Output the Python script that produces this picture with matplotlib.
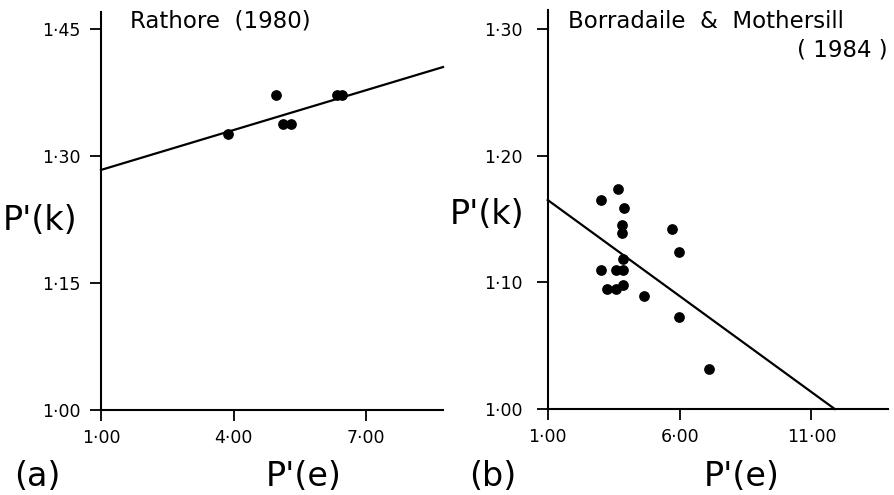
import numpy as np
import matplotlib
matplotlib.use('Agg')
import matplotlib.pyplot as plt
from matplotlib.ticker import FixedLocator

# panel (a): Rathore (1980)
pe_a = [3.87, 4.95, 5.12, 5.30, 6.33, 6.45]
pk_a = [1.3256, 1.3716, 1.338, 1.338, 1.3716, 1.3716]
fit_a_x = [1.0, 8.74]
fit_a_y = [1.2835, 1.405]
xticks_a = [1.0, 4.0, 7.0]
yticks_a = [1.00, 1.15, 1.30, 1.45]

# panel (b): Borradaile & Mothersill (1984)
pe_b = [3.01, 3.65, 3.89, 3.80, 3.80, 5.73, 5.97, 3.85, 3.02, 3.58, 3.84,
        3.23, 3.58, 3.84, 4.65, 5.98, 7.10]
pk_b = [1.1647, 1.1733, 1.1588, 1.145, 1.1386, 1.1423, 1.1241, 1.1184,
        1.1097, 1.1097, 1.1097, 1.0947, 1.0947, 1.0978, 1.0892, 1.0723, 1.0316]
fit_b_x = [1.0, 11.88]
fit_b_y = [1.165, 1.0]
xticks_b = [1.0, 6.0, 11.0]
yticks_b = [1.00, 1.10, 1.20, 1.30]

W, H = 895, 495


def fmt(v):
    return '{:.2f}'.format(v).replace('.', '\u00b7')


def style_axes(ax, xticks, yticks, xlim, ylim, ypad):
    ax.set_xlim(*xlim)
    ax.set_ylim(*ylim)
    for s in ['top', 'right']:
        ax.spines[s].set_visible(False)
    for s in ['left', 'bottom']:
        ax.spines[s].set_linewidth(1.5)
    ax.xaxis.set_major_locator(FixedLocator(xticks))
    ax.yaxis.set_major_locator(FixedLocator(yticks))
    ax.set_xticklabels([fmt(v) for v in xticks])
    ax.set_yticklabels([fmt(v) for v in yticks])
    ax.tick_params(axis='both', direction='out', length=8, width=1.3,
                   labelsize=12.5, colors='black')
    ax.tick_params(axis='x', pad=6)
    ax.tick_params(axis='y', pad=ypad)
    ax.patch.set_alpha(0)


def px(x, y):
    return x / W, 1 - y / H


fig = plt.figure(figsize=(W / 100, H / 100), dpi=100)

ax1 = fig.add_axes([101 / W, 1 - 410 / H, (443 - 101) / W, (410 - 12) / H])
style_axes(ax1, xticks_a, yticks_a, (1.0, 8.74), (1.0, 1.47), 7)
ax1.plot(fit_a_x, fit_a_y, color='black', lw=1.6, clip_on=False)
ax1.scatter(pe_a, pk_a, s=45, color='black', zorder=3, clip_on=False)

ax2 = fig.add_axes([547.7 / W, 1 - 409 / H, (888 - 547.7) / W, (409 - 10) / H])
style_axes(ax2, xticks_b, yticks_b, (1.0, 13.9), (1.0, 1.315), 10)
ax2.plot(fit_b_x, fit_b_y, color='black', lw=1.6, clip_on=False)
ax2.scatter(pe_b, pk_b, s=45, color='black', zorder=3, clip_on=False)

big = 24
mid = 16.5

fig.text(*px(130, 21), 'Rathore  (1980)', fontsize=mid, ha='left', va='center')
fig.text(*px(568, 21), 'Borradaile  &  Mothersill', fontsize=mid, ha='left', va='center')
fig.text(*px(888, 50), '( 1984 )', fontsize=mid, ha='right', va='center')

fig.text(*px(40, 220), "P'(k)", fontsize=big, ha='center', va='center')
fig.text(*px(487, 215), "P'(k)", fontsize=big, ha='center', va='center')
fig.text(*px(304, 477), "P'(e)", fontsize=big, ha='center', va='center')
fig.text(*px(742, 477), "P'(e)", fontsize=big, ha='center', va='center')
fig.text(*px(37, 477), '(a)', fontsize=big, ha='center', va='center')
fig.text(*px(493, 477), '(b)', fontsize=big, ha='center', va='center')

fig.savefig('out.png', dpi=100)
